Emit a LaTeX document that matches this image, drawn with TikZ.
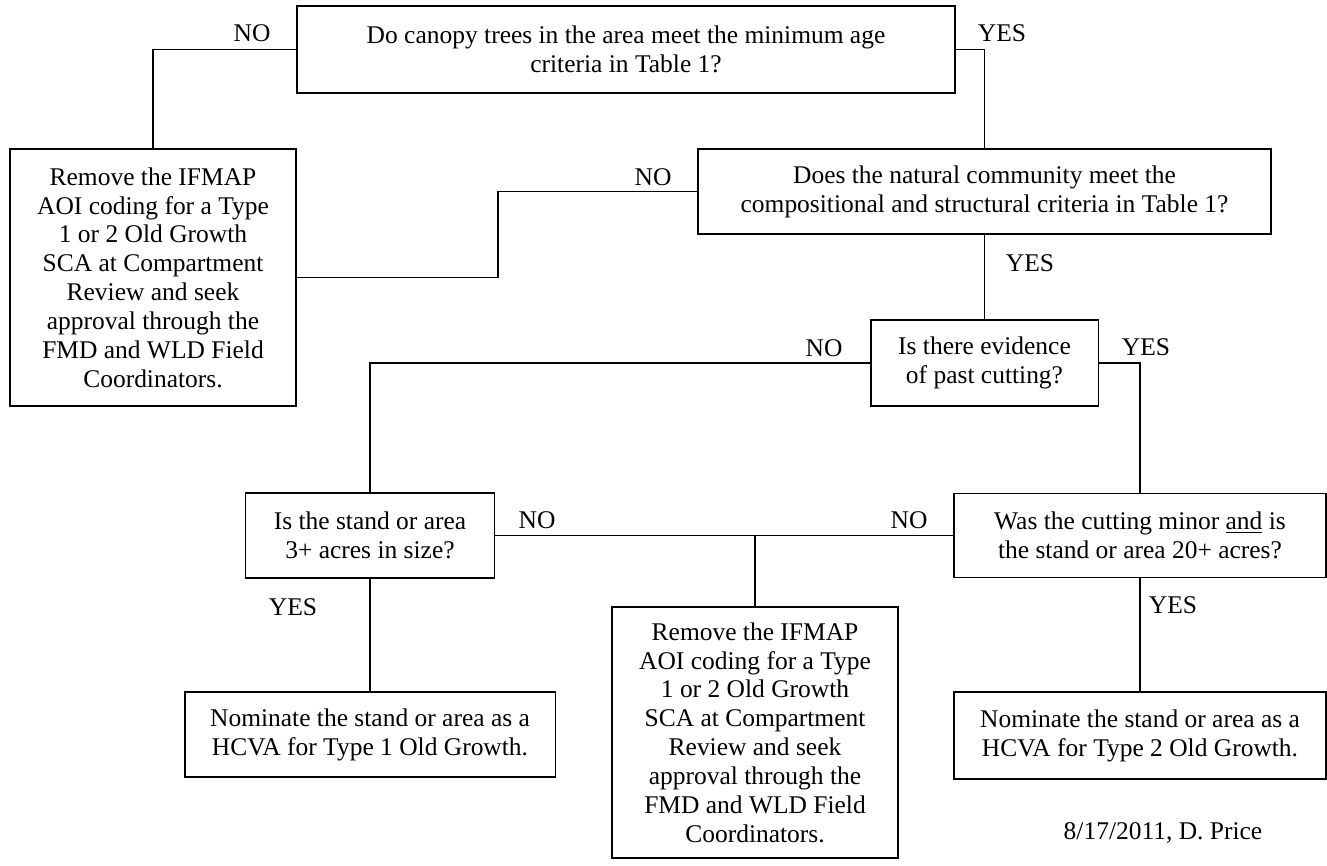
\documentclass[tikz,border=0pt]{standalone}
\usepackage{fontspec}
\setmainfont{Liberation Serif}
\usepackage{tikz}
\usetikzlibrary{calc,positioning}

\begin{document}
\begin{tikzpicture}[x=0.02cm,y=-0.02cm,
    qbox/.style={draw,line width=1.1pt,align=center,inner sep=2pt,
      font=\fontsize{14.5}{16.4}\selectfont},
    ans/.style={font=\fontsize{14.5}{16.4}\selectfont},
    link/.style={line width=1.1pt}]
    \useasboundingbox (0,0) rectangle (1327,865);
    % questions and outcomes
    \node[qbox,minimum width=13.18cm,minimum height=1.74cm] (qage) at (626,49.5)
      {Do canopy trees in the area meet the minimum age\\criteria in Table 1?};
    \node[qbox,minimum width=5.72cm,minimum height=5.14cm] (rmleft) at (153,277.5)
      {Remove the IFMAP\\AOI coding for a Type\\1 or 2 Old Growth\\SCA at Compartment\\Review and seek\\approval through the\\FMD and WLD Field\\Coordinators.};
    \node[qbox,minimum width=11.46cm,minimum height=1.70cm] (qcomp) at (984.5,191.5)
      {Does the natural community meet the\\compositional and structural criteria in Table 1?};
    \node[qbox,minimum width=4.56cm,minimum height=1.72cm] (qcut) at (984.5,363)
      {Is there evidence\\of past cutting?};
    \node[qbox,minimum width=4.98cm,minimum height=1.70cm] (qsize) at (370,535.5)
      {Is the stand or area\\3+ acres in size?};
    \node[qbox,minimum width=7.44cm,minimum height=1.68cm] (qminor) at (1140,535.5)
      {Was the cutting minor \underline{and} is\\the stand or area 20+ acres?};
    \node[qbox,minimum width=5.72cm,minimum height=5.02cm] (rmmid) at (755,732.5)
      {Remove the IFMAP\\AOI coding for a Type\\1 or 2 Old Growth\\SCA at Compartment\\Review and seek\\approval through the\\FMD and WLD Field\\Coordinators.};
    \node[qbox,minimum width=7.42cm,minimum height=1.70cm] (typeone) at (370,734.5)
      {Nominate the stand or area as a\\HCVA for Type 1 Old Growth.};
    \node[qbox,minimum width=7.44cm,minimum height=1.74cm] (typetwo) at (1140,735.5)
      {Nominate the stand or area as a\\HCVA for Type 2 Old Growth.};
    % connectors
    \draw[link] (qage.west) -| (rmleft.north);
    \draw[link] (qage.east) -| (qcomp.north);
    \draw[link] (rmleft.east) -- ++(201,0) |- (qcomp.west);
    \draw[link] (qcomp.south) -- (qcut.north);
    \draw[link] (qcut.west) -| (qsize.north);
    \draw[link] (qcut.east) -| (qminor.north);
    \draw[link] (qsize.south) -- (typeone.north);
    \draw[link] (qsize.east) -| (rmmid.north);
    \draw[link] (qminor.west) -| (rmmid.north);
    \draw[link] (qminor.south) -- (typetwo.north);
    % answers
    \node[ans] (noage) at (252,33) {NO};
    \node[ans] (yesage) at (1002,33) {YES};
    \node[ans] (nocomp) at (653,177) {NO};
    \node[ans] (yescomp) at (1030,263) {YES};
    \node[ans] (nocut) at (824,348) {NO};
    \node[ans] (yescut) at (1146,347) {YES};
    \node[ans] (nosize) at (537,520) {NO};
    \node[ans] (nominor) at (909,520) {NO};
    \node[ans] (yessize) at (293,607) {YES};
    \node[ans] (yesminor) at (1173,605) {YES};
    \node[ans] (stamp) at (1163,833) {8/17/2011, D. Price};
\end{tikzpicture}
\end{document}
